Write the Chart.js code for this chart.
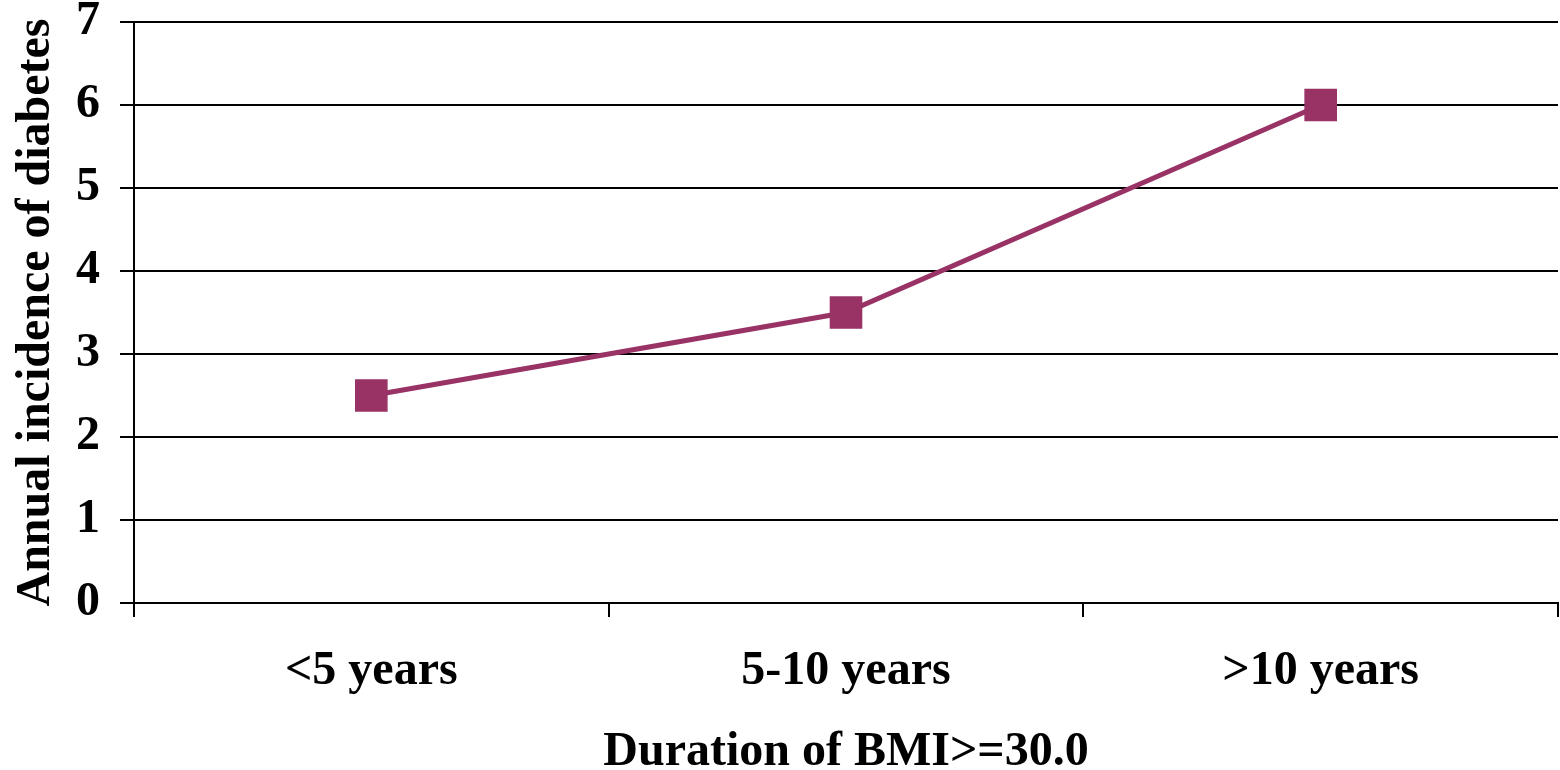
<!DOCTYPE html>
<html>
<head>
<meta charset="utf-8">
<title>Annual incidence of diabetes</title>
<script src="https://cdn.jsdelivr.net/npm/chart.js@4/dist/chart.umd.min.js"></script>
<style>
  html, body { margin: 0; padding: 0; background: #fff; }
  canvas { display: block; }
</style>
</head>
<body>
<canvas id="chart" width="1560" height="770"></canvas>
<script>
// Duration categories and annual diabetes incidence
const categories = ['<5 years', '5-10 years', '>10 years'];
const incidence = [2.5, 3.5, 6.0];
const yTicks = [0, 1, 2, 3, 4, 5, 6, 7];

const serif = '"Liberation Serif", "Times New Roman", serif';
const bold48 = { family: serif, size: 48, weight: 'bold', lineHeight: 1 };

new Chart(document.getElementById('chart'), {
  type: 'line',
  data: {
    labels: categories,
    datasets: [{
      data: incidence,
      borderColor: '#993366',
      backgroundColor: '#993366',
      borderWidth: 5,
      pointStyle: 'rect',
      pointRadius: 22,
      pointBorderWidth: 1.5,
      pointBorderColor: '#993366',
      pointBackgroundColor: '#993366',
      tension: 0,
      fill: false
    }]
  },
  options: {
    responsive: false,
    animation: false,
    layout: { autoPadding: false, padding: { top: 22, right: 2, left: 0, bottom: 0 } },
    plugins: { legend: { display: false }, tooltip: { enabled: false } },
    scales: {
      x: {
        offset: true,
        grid: { offset: true, drawOnChartArea: false, color: '#000', lineWidth: 2, tickLength: 14 },
        border: { display: true, color: '#000', width: 2 },
        ticks: { color: '#000', font: bold48, padding: 31, maxRotation: 0 },
        title: { display: true, text: 'Duration of BMI>=30.0', color: '#000', font: bold48, padding: { top: 0, bottom: -7 } },
        afterFit: (s) => { s.height = 167; s.paddingLeft = 0; s.paddingRight = 0; }
      },
      y: {
        min: 0,
        max: 7,
        afterBuildTicks: (s) => { s.ticks = yTicks.map(v => ({ value: v })); },
        grid: { color: '#000', lineWidth: 2, tickLength: 14 },
        border: { display: true, color: '#000', width: 2 },
        ticks: { color: '#000', font: bold48, padding: 20 },
        title: { display: true, text: 'Annual incidence of diabetes', color: '#000', font: bold48, padding: { top: 13, bottom: 0 } },
        afterFit: (s) => { s.width = 134; s.paddingTop = 0; s.paddingBottom = 0; }
      }
    }
  }
});
</script>
</body>
</html>
